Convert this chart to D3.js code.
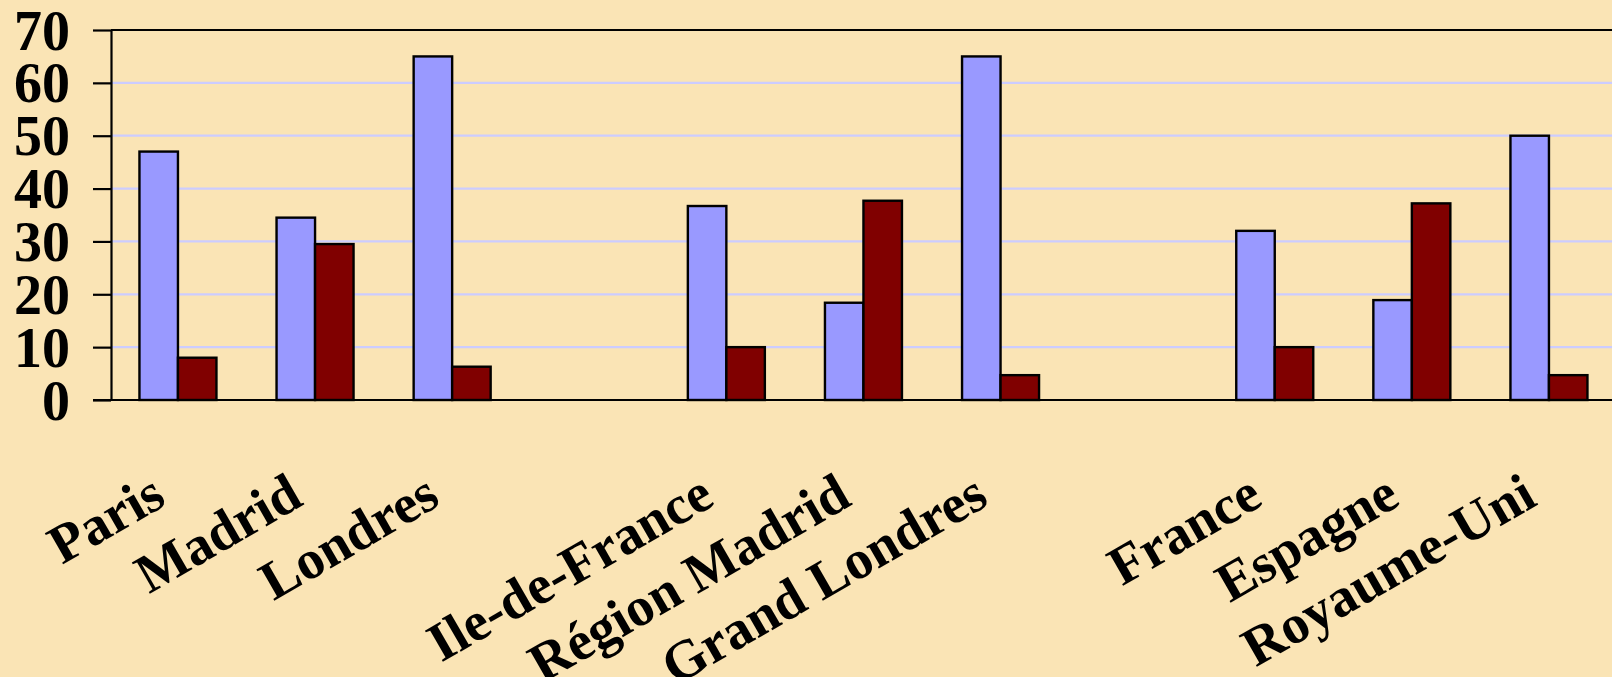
<!DOCTYPE html>
<html>
<head>
<meta charset="utf-8">
<script src="https://cdn.jsdelivr.net/npm/d3@7"></script>
<style>
  html, body { margin: 0; padding: 0; background: #FAE4B5; }
  svg { display: block; }
</style>
</head>
<body>
<script>
// Categories (null = empty gap slot between groups)
const categories = ["Paris", "Madrid", "Londres", null, "Ile-de-France", "Région Madrid", "Grand Londres", null, "France", "Espagne", "Royaume-Uni"];
const seriesBlue = [47, 34.5, 65, null, 36.7, 18.4, 65, null, 32, 18.9, 50];
const seriesRed  = [8, 29.5, 6.3, null, 10, 37.7, 4.7, null, 10, 37.2, 4.7];
const yTicks = [0, 10, 20, 30, 40, 50, 60, 70];

const W = 1612, H = 677;
const svg = d3.select("body").append("svg").attr("width", W).attr("height", H);
svg.append("rect").attr("width", W).attr("height", H).attr("fill", "#FAE4B5");

const axisX = 111, y0 = 400, yTop = 30;
const step = 137.1;
const x = d3.scaleBand().domain(d3.range(categories.length))
  .range([109.4, 109.4 + step * categories.length]).padding(0);
const y = d3.scaleLinear().domain([0, 70]).range([y0, yTop]);
const barW = 38.5;
const font = "'Liberation Serif', 'Times New Roman', serif";

// gridlines
svg.append("g").selectAll("line").data(yTicks.filter(t => t > 0 && t < 70)).join("line")
  .attr("x1", axisX).attr("x2", W + 10)
  .attr("y1", d => y(d)).attr("y2", d => y(d))
  .attr("stroke", "#CCCCFF").attr("stroke-width", 2.2);

// top frame line
svg.append("line").attr("x1", axisX).attr("x2", W + 10)
  .attr("y1", y(70)).attr("y2", y(70)).attr("stroke", "#000").attr("stroke-width", 2.2);

// bars
const idx = d3.range(categories.length).filter(i => categories[i] !== null);
const cx = i => x(i) + x.bandwidth() / 2;
svg.append("g").selectAll("rect").data(idx).join("rect")
  .attr("x", i => cx(i) - barW).attr("width", barW)
  .attr("y", i => y(seriesBlue[i])).attr("height", i => y(0) - y(seriesBlue[i]))
  .attr("fill", "#9999FF").attr("stroke", "#000").attr("stroke-width", 2.4);
svg.append("g").selectAll("rect").data(idx).join("rect")
  .attr("x", i => cx(i)).attr("width", barW)
  .attr("y", i => y(seriesRed[i])).attr("height", i => y(0) - y(seriesRed[i]))
  .attr("fill", "#800000").attr("stroke", "#000").attr("stroke-width", 2.4);

// y axis
const yAxis = d3.axisLeft(y).tickValues(yTicks).tickSize(18).tickSizeOuter(0).tickPadding(23);
const gy = svg.append("g").attr("transform", `translate(${axisX},0)`).call(yAxis);
gy.select(".domain").attr("stroke", "#000").attr("stroke-width", 2.2);
gy.selectAll(".tick line").attr("stroke", "#000").attr("stroke-width", 2.2);
gy.selectAll(".tick text").attr("fill", "#000")
  .style("font-family", font).style("font-weight", "bold").style("font-size", "56px")
  .attr("dy", "0.34em");

// bottom axis line
svg.append("line").attr("x1", axisX - 18).attr("x2", W + 10)
  .attr("y1", y0).attr("y2", y0).attr("stroke", "#000").attr("stroke-width", 2.2);

// category labels rotated
svg.append("g").selectAll("text").data(idx).join("text")
  .attr("transform", i => `translate(${cx(i) - 10},504) rotate(-30)`)
  .attr("text-anchor", "end")
  .style("font-family", font).style("font-weight", "bold").style("font-size", "55px")
  .attr("fill", "#000")
  .text(i => categories[i]);
</script>
</body>
</html>
